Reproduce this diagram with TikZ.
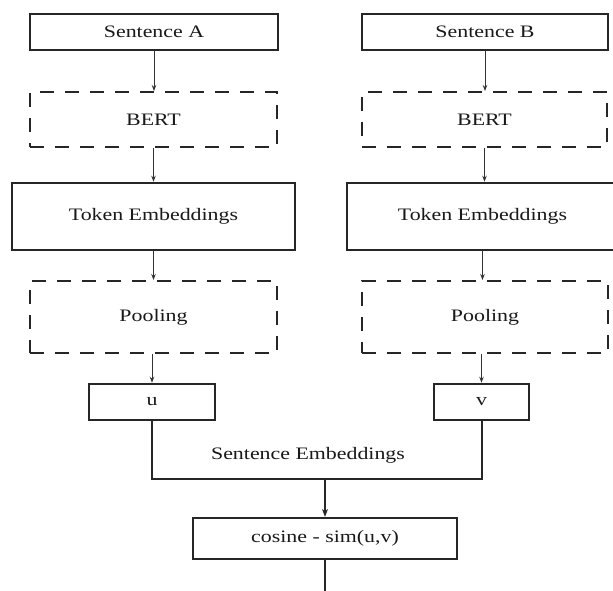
\documentclass[tikz,border=0pt]{standalone}
\usepackage{fontspec}
\setmainfont{Liberation Serif}
\usetikzlibrary{arrows.meta}
\newcommand{\wide}[1]{\scalebox{1.25}[1]{#1}}
\tikzset{
  solidbox/.style={draw=black!85, line width=2.2pt, fill=white, inner sep=0pt,
    font=\fontsize{17.5}{20}\selectfont, text=black!90},
  dashbox/.style={solidbox, line width=2pt, dash pattern=on 14pt off 11pt},
  thinarrow/.style={draw=black!80, line width=0.8pt, -{Stealth[length=6pt,width=4.5pt]}},
  thickline/.style={draw=black!85, line width=2pt},
  thickarrow/.style={thickline, -{Stealth[length=8pt,width=6pt]}},
}

\begin{document}
\begin{tikzpicture}[x=1pt,y=-1pt]
    \clip (0,0) rectangle (613,590);
    \fill[white] (0,0) rectangle (613,590);

    % left column
    \node[solidbox, minimum width=248pt, minimum height=36pt] (sentA) at (154,32) {\wide{Sentence A}};
    \node[dashbox, minimum width=247pt, minimum height=55pt] (bertA) at (153.5,119.5) {\wide{BERT}};
    \node[solidbox, line width=2.6pt, minimum width=283pt, minimum height=67pt] (tokA) at (153.5,216.5) {\wide{Token Embeddings}};
    \node[dashbox, minimum width=247pt, minimum height=72pt] (poolA) at (153.5,317) {\wide{Pooling}};
    \node[solidbox, line width=2.6pt, minimum width=126pt, minimum height=36pt] (u) at (152,402) {\wide{u}};

    % right column
    \node[solidbox, minimum width=246pt, minimum height=36pt] (sentB) at (485,32) {\wide{Sentence B}};
    \node[dashbox, minimum width=245pt, minimum height=55pt] (bertB) at (484.5,119.5) {\wide{BERT}};
    \node[solidbox, line width=2.6pt, minimum width=271pt, minimum height=67pt] (tokB) at (482.5,216.5) {\wide{Token Embeddings}};
    \node[dashbox, minimum width=246pt, minimum height=72pt] (poolB) at (485,317) {\wide{Pooling}};
    \node[solidbox, line width=2.6pt, minimum width=95pt, minimum height=36pt] (v) at (481.5,402) {\wide{v}};

    % arrows
    \draw[thinarrow] (sentA) -- (sentA |- bertA.north);
    \draw[thinarrow] (bertA) -- (bertA |- tokA.north);
    \draw[thinarrow] (tokA) -- (tokA |- poolA.north);
    \draw[thinarrow] (u |- poolA.south) -- (u);
    \draw[thinarrow] (sentB) -- (sentB |- bertB.north);
    \draw[thinarrow] (bertB) -- (bertB |- tokB.north);
    \draw[thinarrow] (tokB) -- (tokB |- poolB.north);
    \draw[thinarrow] (v |- poolB.south) -- (v);

    % join
    \node[solidbox, minimum width=264pt, minimum height=41pt] (cos) at (325,538.5) {\wide{cosine - sim(u,v)}};
    \coordinate (join) at (cos.north |- 0,479);
    \coordinate (out) at (cos.south |- 0,592);
    \draw[thickline] (u.south) |- (join) -| (v.south);
    \node[font=\fontsize{17.5}{20}\selectfont, text=black!90] (embs) at (308,455) {\wide{Sentence Embeddings}};
    \draw[thickarrow] (join) -- (cos.north);
    \draw[thickline] (cos.south) -- (out);
\end{tikzpicture}
\end{document}
